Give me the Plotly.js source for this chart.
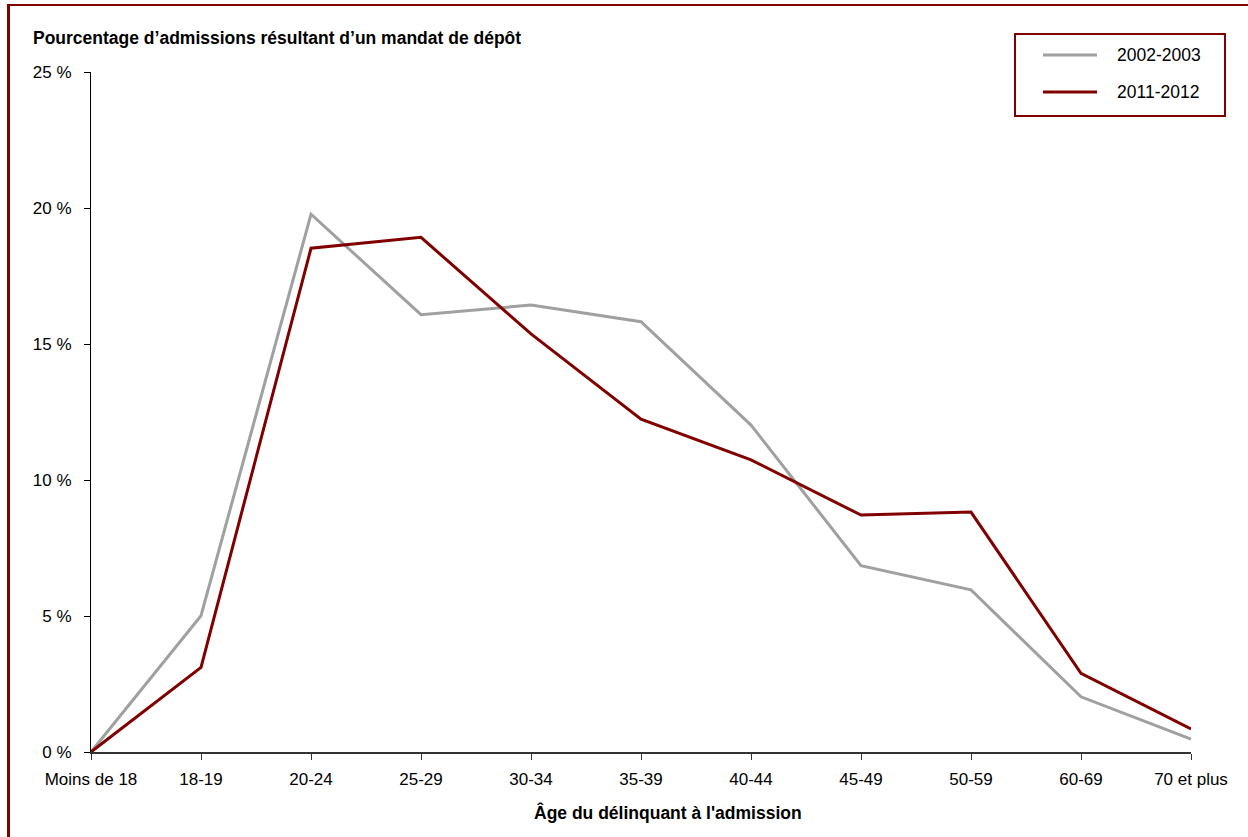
<!DOCTYPE html>
<html>
<head>
<meta charset="utf-8">
<script src="https://cdn.plot.ly/plotly-3.0.1.min.js"></script>
<style>
  html, body { margin: 0; padding: 0; width: 1248px; height: 837px; overflow: hidden; background: #fff; }
  #chart { position: absolute; left: 0; top: 0; width: 1248px; height: 837px; }
  #frame { position: absolute; left: 7px; top: 4px; width: 1260px; height: 900px;
           border-left: 3px solid #800000; border-top: 2px solid #800000; pointer-events: none; }
</style>
</head>
<body>
<div id="chart"></div>
<div id="frame"></div>
<script>
// Age groups at admission
const ageGroups = ["Moins de 18", "18-19", "20-24", "25-29", "30-34", "35-39",
                   "40-44", "45-49", "50-59", "60-69", "70 et plus"];

// Share of admissions resulting from a remand warrant (%)
const series2002 = [0.0, 5.01, 19.77, 16.08, 16.43, 15.82, 12.02, 6.85, 5.96, 2.03, 0.47];
const series2011 = [0.0, 3.11, 18.52, 18.92, 15.37, 12.24, 10.74, 8.71, 8.82, 2.89, 0.85];

const seriesNames = ["2002-2003", "2011-2012"];
const seriesColors = ["#A0A0A0", "#800000"];

const yTickVals = [0, 5, 10, 15, 20, 25];
const yTickText = ["0 %", "5 %", "10 %", "15 %", "20 %", "25 %"];

const chartTitle = "Pourcentage d’admissions résultant d’un mandat de dépôt";
const xTitle = "Âge du délinquant à l'admission";

// Figure geometry (pixels)
const FIG_W = 1248, FIG_H = 837;
const M = { l: 91, r: 57, t: 72, b: 85 };
const PW = FIG_W - M.l - M.r, PH = FIG_H - M.t - M.b;
const px = x => (x - M.l) / PW;          // pixel -> paper x
const py = y => (FIG_H - M.b - y) / PH;  // pixel -> paper y

const FONT = "Liberation Sans Narrow, Arial Narrow, Liberation Sans, Arial, sans-serif";
const SIZE = 17;
const TITLE_SIZE = 17.5;

const traces = [series2002, series2011].map((vals, i) => ({
  type: "scatter",
  mode: "lines",
  x: ageGroups,
  y: vals,
  name: seriesNames[i],
  line: { color: seriesColors[i], width: 3 },
  showlegend: false,
  hoverinfo: "x+y"
}));

// Legend drawn as a framed box with line samples
const legendRows = [55, 92];
const shapes = [{
  type: "rect", xref: "paper", yref: "paper",
  x0: px(1015), x1: px(1225), y0: py(116), y1: py(34),
  line: { color: "#800000", width: 2 }, fillcolor: "rgba(0,0,0,0)"
}];
const annotations = [];
seriesNames.forEach((name, i) => {
  shapes.push({
    type: "line", xref: "paper", yref: "paper",
    x0: px(1043), x1: px(1097), y0: py(legendRows[i]), y1: py(legendRows[i]),
    line: { color: seriesColors[i], width: 3 }
  });
  annotations.push({
    xref: "paper", yref: "paper", x: px(1115), y: py(legendRows[i]),
    xanchor: "left", yanchor: "middle", showarrow: false, text: name,
    font: { family: FONT, size: TITLE_SIZE, color: "#000" }
  });
});

annotations.push({
  xref: "paper", yref: "paper", x: px(31), y: py(38),
  xanchor: "left", yanchor: "middle", showarrow: false, text: "<b>" + chartTitle + "</b>",
  font: { family: FONT, size: TITLE_SIZE, color: "#000" }
});
annotations.push({
  xref: "paper", yref: "paper", x: px(668), y: py(813),
  xanchor: "center", yanchor: "middle", showarrow: false, text: "<b>" + xTitle + "</b>",
  font: { family: FONT, size: TITLE_SIZE, color: "#000" }
});

const layout = {
  width: FIG_W, height: FIG_H,
  margin: M,
  paper_bgcolor: "#fff", plot_bgcolor: "#fff",
  font: { family: FONT, size: SIZE, color: "#000" },
  xaxis: {
    type: "category",
    range: [0, ageGroups.length - 1],
    showgrid: false, zeroline: false,
    showline: true, linecolor: "#333", linewidth: 2,
    ticks: "outside", ticklen: 6, tickcolor: "#333", tickwidth: 1,
    ticklabelstandoff: 5,
    tickfont: { family: FONT, size: SIZE, color: "#000" }
  },
  yaxis: {
    range: [0, 25],
    tickvals: yTickVals, ticktext: yTickText,
    showgrid: false, zeroline: false,
    showline: true, linecolor: "#000", linewidth: 1,
    ticks: "outside", ticklen: 6, tickcolor: "#000", tickwidth: 1,
    ticklabelstandoff: 9,
    tickfont: { family: FONT, size: SIZE, color: "#000" }
  },
  shapes: shapes,
  annotations: annotations,
  showlegend: false
};

Plotly.newPlot("chart", traces, layout, { displayModeBar: false, staticPlot: true });
</script>
</body>
</html>
